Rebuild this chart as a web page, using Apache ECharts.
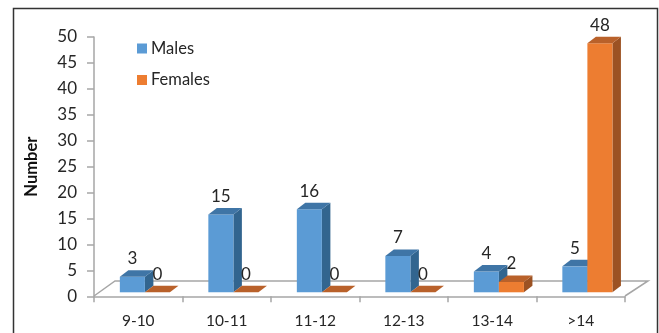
<!DOCTYPE html>
<html>
<head>
<meta charset="utf-8">
<style>
  html, body { margin: 0; padding: 0; background: #fff; }
  #chart { width: 659px; height: 333px; }
</style>
<script src="https://cdn.jsdelivr.net/npm/echarts@6/dist/echarts.min.js"></script>
</head>
<body>
<div id="chart"></div>
<script>
// Age groups and head counts per group
const categories = ['9-10', '10-11', '11-12', '12-13', '13-14', '>14'];
const males = [3, 15, 16, 7, 4, 5];
const females = [0, 0, 0, 0, 2, 48];
const yTicks = { min: 0, max: 50, interval: 5 };

const FONT = 'Lato, "Open Sans", sans-serif';
const TEXT = '#262626';
const AXIS = '#A6A6A6';

// Bars stand a little behind the front edge of the floor
const LIFT = 4;
const SHIFT = 0.075;      // share of a band
const BAR = 0.283;        // share of a band
const DEPTH_X = 8.5;
const DEPTH_Y = 6.5;

const palette = {
  Males:   { front: '#5B9BD5', top: '#3F75A6', side: '#32658F' },
  Females: { front: '#ED7D31', top: '#B9612A', side: '#9C5223' }
};

// Draws one pseudo-3D box per category: front, top and side faces plus its value
function boxRenderer(name, slot) {
  const c = palette[name];
  return function (params, api) {
    const i = api.value(0);
    const v = api.value(1);
    const base = api.coord([i, 0]);
    const tip = api.coord([i, v]);
    const band = api.size([1, 0])[0];
    const w = band * BAR;
    const x0 = base[0] + band * SHIFT + (slot - 1) * w;
    const x1 = x0 + w;
    const yb = base[1] - LIFT;
    const yt = tip[1] - LIFT;
    const poly = (points, fill) => ({
      type: 'polygon',
      shape: { points: points },
      style: { fill: fill }
    });
    const children = [];
    if (v > 0) {
      children.push(poly([[x1, yb], [x1 + DEPTH_X, yb - DEPTH_Y], [x1 + DEPTH_X, yt - DEPTH_Y], [x1, yt]], c.side));
      children.push(poly([[x0, yb], [x1, yb], [x1, yt], [x0, yt]], c.front));
    }
    children.push(poly([[x0, yt], [x1, yt], [x1 + DEPTH_X, yt - DEPTH_Y], [x0 + DEPTH_X, yt - DEPTH_Y]], c.top));
    children.push({
      type: 'text',
      style: {
        text: String(v),
        x: (x0 + x1) / 2,
        y: yt - 18,
        align: 'center',
        verticalAlign: 'middle',
        fill: TEXT,
        font: '17px ' + FONT
      }
    });
    return { type: 'group', children: children };
  };
}

function boxSeries(name, values, slot) {
  return {
    name: name,
    type: 'custom',
    coordinateSystem: 'cartesian2d',
    clip: false,
    itemStyle: { color: palette[name].front },
    encode: { x: 0, y: 1 },
    data: values.map((v, i) => [i, v]),
    renderItem: boxRenderer(name, slot)
  };
}

const chart = echarts.init(document.getElementById('chart'));
chart.setOption({
  animation: false,
  backgroundColor: '#fff',
  textStyle: { fontFamily: FONT },
  grid: { left: 94, top: 37, width: 531, height: 259.3, containLabel: false },
  legend: {
    orient: 'vertical',
    left: 137,
    top: 40,
    padding: 0,
    itemWidth: 10,
    itemHeight: 10,
    itemGap: 14.5,
    icon: 'rect',
    selectedMode: false,
    textStyle: { fontSize: 16.5, color: TEXT, fontFamily: FONT, padding: [0, 0, 0, -1] },
    data: ['Males', 'Females']
  },
  xAxis: {
    type: 'category',
    data: categories,
    axisLine: { lineStyle: { color: AXIS, width: 1.5 } },
    axisTick: { show: true, alignWithLabel: false, length: 6, lineStyle: { color: AXIS, width: 1.5 } },
    axisLabel: { color: TEXT, fontSize: 15.5, margin: 17, fontFamily: FONT }
  },
  yAxis: {
    type: 'value',
    min: yTicks.min,
    max: yTicks.max,
    interval: yTicks.interval,
    name: 'Number',
    nameLocation: 'middle',
    nameGap: 54,
    nameRotate: 90,
    nameTextStyle: { color: '#111', fontSize: 16.5, fontWeight: 'bold', fontFamily: FONT },
    axisLine: { show: true, lineStyle: { color: AXIS, width: 1.5 } },
    axisTick: { show: true, length: 7, lineStyle: { color: AXIS, width: 1.5 } },
    axisLabel: { color: TEXT, fontSize: 17, margin: 17, padding: [6, 0, 0, 0], fontFamily: FONT },
    splitLine: { show: false }
  },
  graphic: [
    // Outer frame of the figure
    {
      type: 'rect',
      z: 0,
      shape: { x: 13.5, y: 8.5, width: 644, height: 330 },
      style: { fill: 'none', stroke: '#333', lineWidth: 1.5 }
    },
    // Back and side edges of the floor
    {
      type: 'polyline',
      z: 0,
      shape: { points: [[94, 296], [115, 281], [648, 281], [625, 296]] },
      style: { fill: 'none', stroke: AXIS, lineWidth: 1.5 }
    }
  ],
  series: [boxSeries('Males', males, 0), boxSeries('Females', females, 1)]
});
</script>
</body>
</html>
